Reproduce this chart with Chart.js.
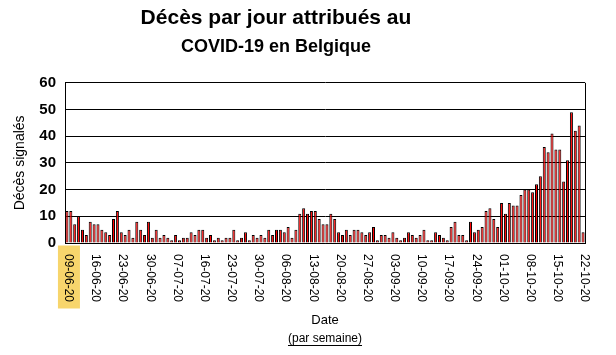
<!DOCTYPE html>
<html>
<head>
<meta charset="utf-8">
<script src="https://cdn.jsdelivr.net/npm/chart.js@4"></script>
<style>
  html, body { margin: 0; padding: 0; background: #fff; }
  #wrap { width: 616px; height: 355px; position: relative; }
</style>
</head>
<body>
<div id="wrap"><canvas id="c" width="616" height="355"></canvas></div>
<script>
// ---- data ----
const tickLabels = ['09-06-20','16-06-20','23-06-20','30-06-20','07-07-20','16-07-20','23-07-20',
  '30-07-20','06-08-20','13-08-20','20-08-20','27-08-20','03-09-20','10-09-20','17-09-20',
  '24-09-20','01-10-20','08-10-20','15-10-20','22-10-20'];
const deaths = [
  12,12,7,10,5,3,8,7,7,5,4,3,9,12,4,3,5,2,8,5,3,8,2,5,2,3,2,1,3,1,2,2,4,3,
  5,5,2,3,1,2,1,2,2,5,1,2,4,1,3,2,3,2,5,3,5,5,4,6,2,5,11,13,11,12,12,9,7,7,11,
  9,4,3,5,3,5,5,4,3,4,6,1,3,3,2,4,2,1,2,4,3,2,3,5,1,1,4,3,2,1,6,8,3,3,
  1,8,4,5,6,12,13,9,6,15,11,15,14,14,18,20,20,19,22,25,36,34,41,35,35,23,31,49,42,44,4
];
const yTickValues = [0, 10, 20, 30, 40, 50, 60];
const titleText = 'Décès par jour attribués au';
const subtitleText = 'COVID-19 en Belgique';
const yTitle = 'Décès signalés';
const xTitle = 'Date';
const xNote = '(par semaine)';
const labelEvery = 7;

// category labels: one tick label every 7 bars
const categories = deaths.map((v, i) => (i % labelEvery === 0 ? tickLabels[i / labelEvery] : ''));

Chart.defaults.font.family = '"Liberation Sans", Arial, sans-serif';
Chart.defaults.color = '#000';

const decor = {
  id: 'decor',
  afterLayout(chart) {
    chart.boxes.forEach(b => {
      if (b.options && (b.options.text === titleText || b.options.text === subtitleText)) {
        b.left = 0; b.right = chart.width - 64;
      }
    });
  },
  afterDraw(chart) {
    const { ctx, chartArea: a, scales: { x } } = chart;
    ctx.save();
    // right frame line
    ctx.strokeStyle = '#000';
    ctx.lineWidth = 1;
    const rx = Math.round(a.right) + 0.5;
    ctx.beginPath(); ctx.moveTo(rx, a.top); ctx.lineTo(rx, a.bottom); ctx.stroke();
    // rotated tick labels (reading top to bottom)
    ctx.font = '12px "Liberation Sans", Arial, sans-serif';
    x.ticks.forEach((t, i) => {
      const lbl = categories[i];
      if (!lbl) return;
      const px = x.getPixelForTick(i);
      if (i === 0) {
        ctx.fillStyle = '#F7D56C';
        ctx.fillRect(px - 9, a.bottom + 2.5, 22, 63);
      }
      ctx.save();
      ctx.translate(px + 1.5, a.bottom + 11);
      ctx.rotate(Math.PI / 2);
      ctx.fillStyle = '#000';
      ctx.textAlign = 'left';
      ctx.textBaseline = 'middle';
      ctx.fillText(lbl, 0, 0);
      ctx.restore();
    });
    // "(par semaine)" underlined note
    ctx.font = '12px "Liberation Sans", Arial, sans-serif';
    ctx.textAlign = 'center';
    ctx.textBaseline = 'middle';
    ctx.fillStyle = '#000';
    const cx = (a.left + a.right) / 2;
    const ny = chart.height - 16;
    ctx.fillText(xNote, cx, ny);
    const w = ctx.measureText(xNote).width;
    ctx.fillRect(cx - w / 2, ny + 6, w, 1);
    ctx.restore();
  }
};

new Chart(document.getElementById('c'), {
  type: 'bar',
  data: {
    labels: categories,
    datasets: [{
      data: deaths,
      backgroundColor: '#FF0000',
      borderColor: '#000000',
      borderWidth: 1,
      categoryPercentage: 1.0,
      barPercentage: 0.78
    }]
  },
  options: {
    responsive: false,
    animation: false,
    devicePixelRatio: 1,
    layout: { padding: { left: 8, right: 31, top: 0, bottom: 25 } },
    plugins: {
      legend: { display: false },
      tooltip: { enabled: false },
      title: {
        display: true, text: titleText, color: '#000',
        font: { size: 21, weight: 'bold' }, padding: { top: 6, bottom: 0 }
      },
      subtitle: {
        display: true, text: subtitleText, color: '#000',
        font: { size: 18, weight: 'bold' }, padding: { top: 5, bottom: 25 }
      }
    },
    scales: {
      x: {
        offset: true,
        grid: { display: false, drawTicks: false },
        border: { display: true, color: '#000', width: 1 },
        ticks: { autoSkip: false, maxRotation: 90, minRotation: 90, color: 'rgba(0,0,0,0)', font: { size: 12 }, padding: 0 },
        title: { display: true, text: xTitle, color: '#000', font: { size: 13 }, padding: { top: 0, bottom: 2 } },
        afterFit(s) { s.height = 87; }
      },
      y: {
        min: 0, max: 60,
        afterBuildTicks(s) { s.ticks = yTickValues.map(v => ({ value: v })); },
        ticks: { color: '#000', font: { size: 15, weight: 'bold' }, padding: 9 },
        grid: { color: '#000', lineWidth: 1, drawTicks: false },
        border: { display: true, color: '#000', width: 1 },
        title: { display: true, text: yTitle, color: '#000', font: { size: 14 }, padding: { top: 4, bottom: 0 } },
        afterFit(s) { s.width = 57; }
      }
    }
  },
  plugins: [decor]
});
</script>
</body>
</html>
